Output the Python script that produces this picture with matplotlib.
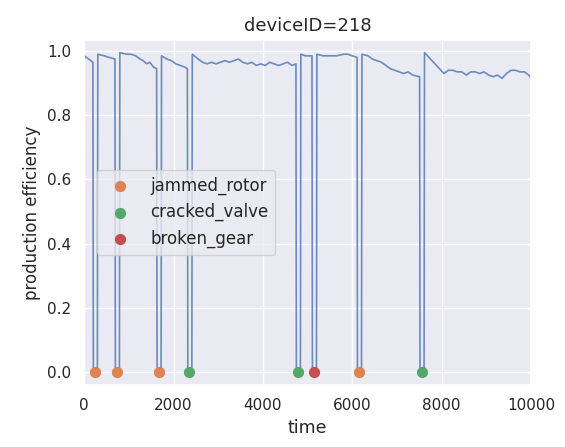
import numpy as np
import matplotlib
matplotlib.use("Agg")
import matplotlib.pyplot as plt
import seaborn as sns

sns.set_theme()

# production efficiency over time
t = [0, 100, 195, 205, 295,
     305, 450, 560, 688, 698, 788,
     798, 950, 1050, 1150, 1250, 1320, 1400, 1470, 1550, 1621, 1631, 1721,
     1731, 1850, 1950, 2050, 2150, 2250, 2309, 2319, 2409,
     2419, 2550, 2650, 2750, 2850, 2950, 3050, 3150, 3250, 3350, 3450, 3550,
     3650, 3750, 3850, 3950, 4050, 4150, 4250, 4350, 4450, 4550, 4650, 4738, 4748, 4838,
     4848, 4950, 5097, 5107, 5197,
     5207, 5350, 5500, 5650, 5800, 5900, 6000, 6105, 6115, 6205,
     6215, 6350, 6450, 6550, 6650, 6750, 6850, 6950, 7050, 7150, 7250, 7350, 7505, 7515, 7605,
     7615, 7750, 7850, 7950, 8050, 8150, 8250, 8350, 8450, 8550, 8650, 8750, 8850,
     8950, 9050, 9150, 9250, 9350, 9450, 9550, 9650, 9750, 9850, 9950, 10000]
eff = [0.985, 0.975, 0.965, 0.0, 0.0,
       0.99, 0.985, 0.98, 0.975, 0.0, 0.0,
       0.995, 0.99, 0.99, 0.985, 0.975, 0.97, 0.96, 0.965, 0.95, 0.945, 0.0, 0.0,
       0.985, 0.975, 0.97, 0.96, 0.955, 0.95, 0.945, 0.0, 0.0,
       0.99, 0.975, 0.965, 0.96, 0.965, 0.96, 0.965, 0.97, 0.965, 0.97, 0.975, 0.965,
       0.96, 0.965, 0.955, 0.96, 0.955, 0.965, 0.96, 0.955, 0.96, 0.965, 0.955, 0.96, 0.0, 0.0,
       0.99, 0.985, 0.985, 0.0, 0.0,
       0.99, 0.985, 0.985, 0.985, 0.99, 0.99, 0.985, 0.98, 0.0, 0.0,
       0.99, 0.985, 0.975, 0.97, 0.965, 0.955, 0.945, 0.94, 0.935, 0.93, 0.935, 0.925, 0.92, 0.0, 0.0,
       0.995, 0.975, 0.96, 0.945, 0.93, 0.94, 0.94, 0.935, 0.935, 0.925, 0.935, 0.935, 0.93,
       0.935, 0.925, 0.92, 0.925, 0.915, 0.93, 0.94, 0.94, 0.935, 0.935, 0.925, 0.915]

# failures
fail_time = [240, 733, 1666, 2354, 4783, 5142, 6150, 7550]
fail_type = ['jammed_rotor', 'jammed_rotor', 'jammed_rotor', 'cracked_valve',
             'cracked_valve', 'broken_gear', 'jammed_rotor', 'cracked_valve']
types = ['jammed_rotor', 'cracked_valve', 'broken_gear']
colors = ['#dd8452', '#55a868', '#c44e52']

fig = plt.figure(figsize=(5.65, 4.47), dpi=100)
ax = fig.add_axes([0.149, 0.139, 0.791, 0.772])

ax.plot(t, eff, color='#4c72b0', lw=1.2, alpha=0.8)

ft = np.array(fail_time)
ftype = np.array(fail_type)
for i in range(0, len(types)):
	x = ft[ftype == types[i]]
	ax.scatter(x, np.zeros(len(x)), s=50, color=colors[i], label=types[i], zorder=3)

ax.set_xlim(0, 10000)
ax.set_ylim(-0.04, 1.035)
ax.set_xlabel('time', fontsize=12.5)
ax.set_ylabel('production efficiency', fontsize=12)
ax.set_title('deviceID=218', fontsize=13)
ax.legend(loc='center left', bbox_to_anchor=(0.01, 0.5), fontsize=12)

plt.savefig('out.png', dpi=100)
